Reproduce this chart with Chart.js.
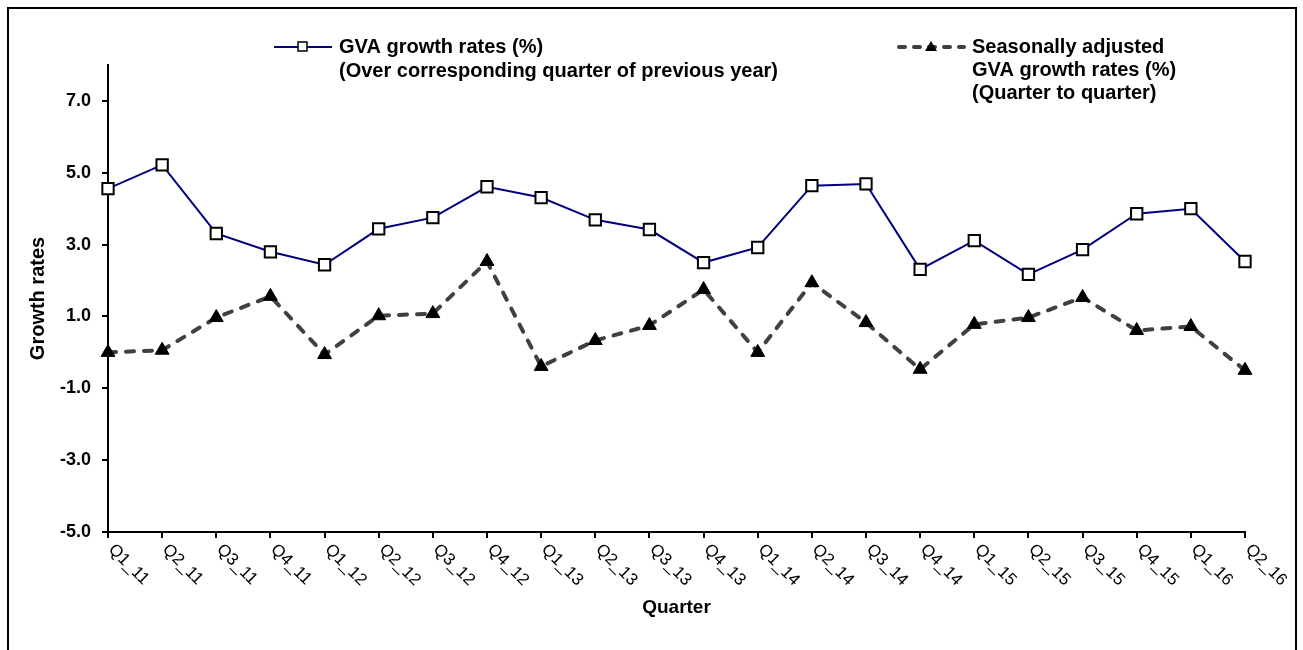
<!DOCTYPE html>
<html>
<head>
<meta charset="utf-8">
<script src="https://cdn.jsdelivr.net/npm/chart.js@4.4.0/dist/chart.umd.min.js"></script>
<style>
  html, body { margin: 0; padding: 0; background: #fff; }
  #wrap { position: relative; width: 1303px; height: 650px; overflow: hidden; }
  #frame { position: absolute; left: 7px; top: 7px; width: 1290px; height: 660px; border: 2px solid #000; box-sizing: border-box; pointer-events: none; }
  #chart { position: absolute; left: 0; top: 0; }
</style>
</head>
<body>
<div id="wrap">
  <canvas id="chart" width="1303" height="650"></canvas>
  <div id="frame"></div>
</div>
<script>
"use strict";
const quarters = ['Q1_11', 'Q2_11', 'Q3_11', 'Q4_11', 'Q1_12', 'Q2_12', 'Q3_12', 'Q4_12',
  'Q1_13', 'Q2_13', 'Q3_13', 'Q4_13', 'Q1_14', 'Q2_14', 'Q3_14', 'Q4_14',
  'Q1_15', 'Q2_15', 'Q3_15', 'Q4_15', 'Q1_16', 'Q2_16'];

// growth over corresponding quarter of previous year
const gvaYoY = [4.56, 5.22, 3.31, 2.80, 2.44, 3.44, 3.75, 4.61,
  4.31, 3.69, 3.42, 2.50, 2.92, 4.64, 4.69, 2.31,
  3.11, 2.17, 2.86, 3.86, 4.00, 2.53];

// seasonally adjusted, quarter to quarter
const gvaSaQoQ = [0.00, 0.06, 0.97, 1.56, -0.06, 1.02, 1.08, 2.53,
  -0.39, 0.33, 0.75, 1.75, 0.00, 1.94, 0.83, -0.47,
  0.78, 0.97, 1.53, 0.61, 0.72, -0.50];

const yTickValues = [-5, -3, -1, 1, 3, 5, 7];
const legendYoY = ['GVA growth rates (%)', '(Over corresponding quarter of previous year)'];
const legendSa = ['Seasonally adjusted', 'GVA growth rates (%)', '(Quarter to quarter)'];

const FONT = '"Liberation Sans", Arial, sans-serif';

// x labels slanted down to the right, like the original
const quarterLabels = {
  id: 'quarterLabels',
  afterDraw(chart) {
    const ctx = chart.ctx;
    const x = chart.scales.x;
    ctx.save();
    ctx.font = '17px ' + FONT;
    ctx.fillStyle = '#000';
    ctx.textAlign = 'left';
    ctx.textBaseline = 'middle';
    quarters.forEach((q, i) => {
      const px = x.getPixelForTick(i);
      ctx.save();
      ctx.translate(px + 3, 547);
      ctx.rotate(45 * Math.PI / 180);
      ctx.fillText(q, 0, 0);
      ctx.restore();
    });
    ctx.restore();
  }
};

// two legend entries with multi-line text
const lineLegend = {
  id: 'lineLegend',
  afterDraw(chart) {
    const ctx = chart.ctx;
    ctx.save();
    ctx.font = 'bold 20px ' + FONT;
    ctx.fillStyle = '#000';
    ctx.textBaseline = 'middle';

    // first entry
    ctx.strokeStyle = '#000080';
    ctx.lineWidth = 2;
    ctx.beginPath();
    ctx.moveTo(274, 47);
    ctx.lineTo(332, 47);
    ctx.stroke();
    ctx.fillStyle = '#fff';
    ctx.strokeStyle = '#000';
    ctx.lineWidth = 1.5;
    ctx.fillRect(298, 42, 9, 9);
    ctx.strokeRect(298, 42, 9, 9);
    ctx.fillStyle = '#000';
    legendYoY.forEach((t, i) => ctx.fillText(t, 339, 47 + i * 24));

    // second entry
    ctx.strokeStyle = '#404040';
    ctx.lineWidth = 4;
    ctx.lineCap = 'round';
    ctx.setLineDash([6, 9]);
    ctx.beginPath();
    ctx.moveTo(899, 47);
    ctx.lineTo(964, 47);
    ctx.stroke();
    ctx.setLineDash([]);
    ctx.beginPath();
    ctx.moveTo(931, 41);
    ctx.lineTo(937, 51);
    ctx.lineTo(925, 51);
    ctx.closePath();
    ctx.fill();
    legendSa.forEach((t, i) => ctx.fillText(t, 972, 47 + i * 23));
    ctx.restore();
  }
};

new Chart(document.getElementById('chart'), {
  type: 'line',
  data: {
    labels: quarters,
    datasets: [{
      label: legendYoY.join(' '),
      data: gvaYoY,
      borderColor: '#000080',
      borderWidth: 2,
      pointStyle: 'rect',
      pointRadius: 8,
      pointBackgroundColor: '#fff',
      pointBorderColor: '#000',
      pointBorderWidth: 2,
      tension: 0
    }, {
      label: legendSa.join(' '),
      data: gvaSaQoQ,
      borderColor: '#404040',
      borderWidth: 4,
      borderDash: [8, 10],
      borderCapStyle: 'round',
      pointStyle: 'triangle',
      pointRadius: 8,
      pointBackgroundColor: '#000',
      pointBorderColor: '#000',
      pointBorderWidth: 1,
      tension: 0
    }]
  },
  options: {
    responsive: false,
    animation: false,
    layout: { padding: { left: 0, right: 58, top: 65, bottom: 0 } },
    plugins: {
      legend: { display: false },
      tooltip: { enabled: false }
    },
    scales: {
      x: {
        type: 'category',
        offset: false,
        grid: { drawOnChartArea: false, drawTicks: true, tickLength: 6, color: '#000', lineWidth: 2 },
        border: { display: true, color: '#000', width: 2 },
        ticks: { display: false },
        title: {
          display: true,
          text: 'Quarter',
          color: '#000',
          font: { family: FONT, size: 19, weight: 'bold' },
          padding: { top: 0, bottom: 31 }
        },
        afterFit: (scale) => { scale.height = 118; }
      },
      y: {
        min: -5,
        max: 8,
        afterBuildTicks: (axis) => { axis.ticks = yTickValues.map(v => ({ value: v })); },
        grid: { drawOnChartArea: false, drawTicks: true, tickLength: 6, color: '#000', lineWidth: 2 },
        border: { display: true, color: '#000', width: 2 },
        ticks: {
          color: '#000',
          padding: 11,
          font: { family: FONT, size: 18, weight: 'bold' },
          callback: (v) => Number(v).toFixed(1)
        },
        title: {
          display: true,
          text: 'Growth rates',
          color: '#000',
          font: { family: FONT, size: 20, weight: 'bold' },
          padding: { top: 26, bottom: 0 }
        },
        afterFit: (scale) => { scale.width = 108; }
      }
    }
  },
  plugins: [quarterLabels, lineLegend]
});
</script>
</body>
</html>
